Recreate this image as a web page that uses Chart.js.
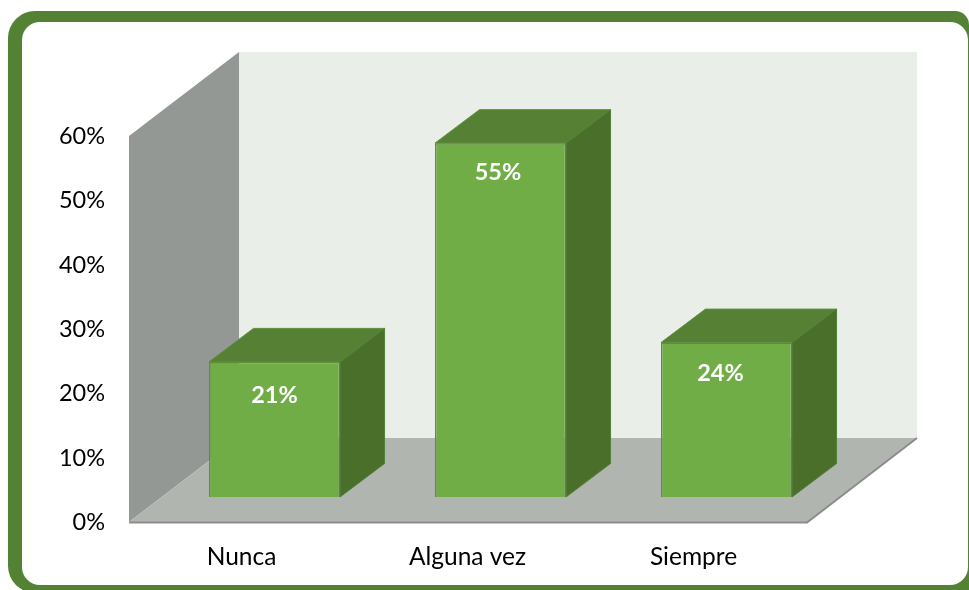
<!DOCTYPE html>
<html>
<head>
<meta charset="utf-8">
<style>
html,body{margin:0;padding:0;background:#fff;overflow:hidden;width:969px;height:590px}
#outer{position:absolute;left:8px;top:11px;width:961px;height:582px;background:#548235;border-radius:27px 14px 0 27px}
#inner{position:absolute;left:21.5px;top:22px;width:946.5px;height:563px;background:#fff;border-radius:18px}
canvas{position:absolute;left:0;top:0}
</style>
<script src="https://cdn.jsdelivr.net/npm/chart.js@4"></script>
</head>
<body>
<div id="outer"></div>
<div id="inner"></div>
<canvas id="c" width="969" height="590"></canvas>
<script>
const categories = ['Nunca', 'Alguna vez', 'Siempre'];
const values = [21, 55, 24];
const valueLabels = ['21%', '55%', '24%'];
const yMax = 60;
const yStep = 10;

const FONT = 'Lato, Carlito, sans-serif';
const WALL = {dx: 110, dy: -84};
const BAR_SHIFT = {dx: 32.5, dy: -25};
const BAR_DEPTH = {dx: 44.5, dy: -33.5};
const LABEL_NUDGE = [{x: 0, y: 33.5}, {x: -2.5, y: 29.5}, {x: -6, y: 30.5}];

function poly(ctx, pts, fill, stroke, lw) {
  ctx.beginPath();
  pts.forEach((p, i) => i ? ctx.lineTo(p[0], p[1]) : ctx.moveTo(p[0], p[1]));
  ctx.closePath();
  ctx.fillStyle = fill;
  ctx.fill();
  if (stroke) { ctx.strokeStyle = stroke; ctx.lineWidth = lw || 1; ctx.stroke(); }
}

const scene3d = {
  id: 'scene3d',
  beforeDatasetsDraw(chart) {
    const {ctx, chartArea: a} = chart;
    const zero = chart.scales.y.getPixelForValue(0);
    const top = chart.scales.y.getPixelForValue(yMax);
    const L = a.left, R = a.right, d = WALL;
    ctx.save();
    poly(ctx, [[L + d.dx, top + d.dy], [R + d.dx, top + d.dy], [R + d.dx, zero + d.dy], [L + d.dx, zero + d.dy]], '#e9efe8');
    poly(ctx, [[L, top], [L + d.dx, top + d.dy], [L + d.dx, zero + d.dy], [L, zero]], '#949894');
    poly(ctx, [[L, zero], [R, zero], [R + d.dx, zero + d.dy], [L + d.dx, zero + d.dy]], '#b1b5af');
    ctx.beginPath();
    ctx.moveTo(L, zero + 0.5);
    ctx.lineTo(R, zero + 0.5);
    ctx.lineTo(R + d.dx, zero + d.dy);
    ctx.strokeStyle = '#8c8c8c';
    ctx.lineWidth = 2;
    ctx.stroke();
    ctx.restore();
  },
  beforeDatasetDraw(chart) {
    chart.ctx.save();
    chart.ctx.translate(BAR_SHIFT.dx, BAR_SHIFT.dy);
  },
  afterDatasetDraw(chart, args) {
    const ctx = chart.ctx;
    const d = BAR_DEPTH;
    args.meta.data.forEach((el, i) => {
      const l = el.x - el.width / 2, r = el.x + el.width / 2, t = el.y, b = el.base;
      poly(ctx, [[l, t], [l + d.dx, t + d.dy], [r + d.dx, t + d.dy], [r, t]], '#568034', '#5f8f3c', 1);
      poly(ctx, [[r, t], [r + d.dx, t + d.dy], [r + d.dx, b + d.dy], [r, b]], '#4a6f2b', '#528038', 1);
      ctx.font = 'bold 23.5px ' + FONT;
      ctx.fillStyle = '#ffffff';
      ctx.textAlign = 'center';
      ctx.textBaseline = 'middle';
      ctx.fillText(valueLabels[i], el.x + LABEL_NUDGE[i].x, t + LABEL_NUDGE[i].y);
    });
    ctx.restore();
  }
};

new Chart(document.getElementById('c'), {
  type: 'bar',
  data: {
    labels: categories,
    datasets: [{
      data: values,
      backgroundColor: '#70ad47',
      borderColor: '#5b8f3a',
      borderWidth: 1.5,
      barPercentage: 0.58,
      categoryPercentage: 1,
      clip: false
    }]
  },
  plugins: [scene3d],
  options: {
    responsive: false,
    animation: false,
    layout: {padding: {left: 0, top: 136, right: 162, bottom: 0}},
    plugins: {legend: {display: false}, title: {display: false}, tooltip: {enabled: false}},
    scales: {
      x: {
        grid: {display: false, drawTicks: false},
        border: {display: false},
        ticks: {color: '#000', font: {family: FONT, size: 24.5}, padding: 20, maxRotation: 0, labelOffset: -0.5},
        afterFit(s) { s.height = 68; }
      },
      y: {
        min: 0,
        max: yMax,
        grid: {display: false, drawTicks: false},
        border: {display: false},
        ticks: {stepSize: yStep, color: '#000', font: {family: FONT, size: 23.5}, padding: 24, labelOffset: 0.5, callback: v => v + '%'},
        afterFit(s) { s.width = 129; }
      }
    }
  }
});
</script>
</body>
</html>
